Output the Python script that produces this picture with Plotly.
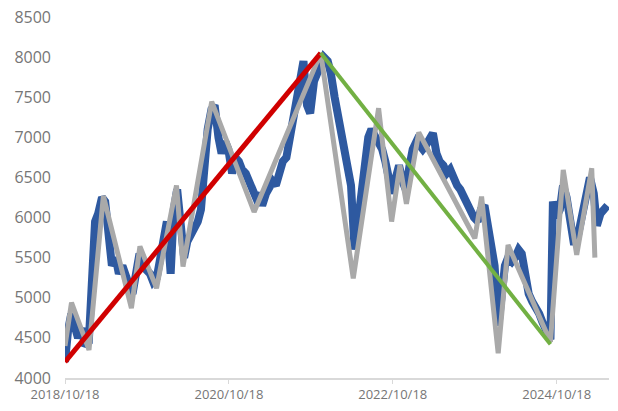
import plotly.graph_objects as go

blue_dates = [
    "2018-10-18", "2018-10-25", "2018-11-01", "2018-11-15", "2018-12-01", "2018-12-15",
    "2019-01-01", "2019-01-15", "2019-02-01", "2019-02-15", "2019-03-01", "2019-03-15",
    "2019-04-01", "2019-04-15", "2019-05-01", "2019-05-15", "2019-06-01", "2019-06-15",
    "2019-07-01", "2019-07-15", "2019-08-01", "2019-08-15", "2019-09-01", "2019-09-15",
    "2019-10-01", "2019-10-15", "2019-11-01", "2019-11-15", "2019-12-01", "2019-12-15",
    "2020-01-01", "2020-01-15", "2020-02-01", "2020-02-15", "2020-03-01", "2020-03-15",
    "2020-04-01", "2020-04-15", "2020-05-01", "2020-05-15", "2020-06-01", "2020-06-15",
    "2020-07-01", "2020-07-15", "2020-08-01", "2020-08-15", "2020-09-01", "2020-09-15",
    "2020-10-01", "2020-10-15", "2020-11-01", "2020-11-15", "2020-12-01", "2020-12-15",
    "2021-01-01", "2021-01-15", "2021-02-01", "2021-02-15", "2021-03-01", "2021-03-15",
    "2021-04-01", "2021-04-15", "2021-05-01", "2021-05-15", "2021-06-01", "2021-06-15",
    "2021-07-01", "2021-07-15", "2021-08-01", "2021-08-15", "2021-09-01", "2021-09-15",
    "2021-10-01", "2021-10-15", "2021-11-01", "2021-11-15", "2021-12-01", "2021-12-15",
    "2022-01-01", "2022-01-15", "2022-02-01", "2022-02-15", "2022-03-01", "2022-03-15",
    "2022-04-01", "2022-04-15", "2022-05-01", "2022-05-15", "2022-06-01", "2022-06-15",
    "2022-07-01", "2022-07-15", "2022-08-01", "2022-08-15", "2022-09-01", "2022-09-15",
    "2022-10-01", "2022-10-15", "2022-11-01", "2022-11-15", "2022-12-01", "2022-12-15",
    "2023-01-01", "2023-01-15", "2023-02-01", "2023-02-15", "2023-03-01", "2023-03-15",
    "2023-04-01", "2023-04-15", "2023-05-01", "2023-05-15", "2023-06-01", "2023-06-15",
    "2023-07-01", "2023-07-15", "2023-08-01", "2023-08-15", "2023-09-01", "2023-09-15",
    "2023-10-01", "2023-10-15", "2023-11-01", "2023-11-15", "2023-12-01", "2023-12-15",
    "2024-01-01", "2024-01-15", "2024-02-01", "2024-02-15", "2024-03-01", "2024-03-15",
    "2024-04-01", "2024-04-15", "2024-05-01", "2024-05-15", "2024-06-01", "2024-06-15",
    "2024-07-01", "2024-07-15", "2024-08-01", "2024-08-15", "2024-09-01", "2024-09-15",
    "2024-09-20", "2024-10-01", "2024-10-15", "2024-11-01", "2024-11-15", "2024-12-01",
    "2024-12-15", "2025-01-01", "2025-01-15", "2025-02-01", "2025-02-15", "2025-03-01",
    "2025-03-15", "2025-04-01", "2025-04-15", "2025-05-01", "2025-05-15", "2025-06-01",
]
blue_values = [
    4200, 4450, 4600, 4800, 4650, 4500,
    4620, 4400, 4450, 5100, 5950, 6050,
    6250, 6200, 5600, 5400, 5500, 5300,
    5400, 5250, 5150, 5050, 5400, 5550,
    5450, 5350, 5300, 5200, 5250, 5500,
    5800, 5950, 5300, 6100, 6350, 5900,
    5500, 5700, 5800, 5850, 5950, 6100,
    6700, 7100, 7350, 7400, 7000, 6800,
    6950, 6850, 6550, 6750, 6700, 6600,
    6550, 6450, 6350, 6250, 6300, 6150,
    6300, 6400, 6450, 6400, 6600, 6700,
    6750, 7000, 7300, 7450, 7750, 7950,
    7400, 7300, 7700, 7800, 7900, 8000,
    7950, 7800, 7500, 7300, 7150, 6900,
    6700, 6400, 5600, 5900, 6300, 6650,
    7000, 7100, 7000, 6900, 6850, 6700,
    6400, 6300, 6500, 6650, 6450, 6350,
    6650, 6850, 6950, 6900, 6850, 6900,
    7000, 7050, 6800, 6700, 6650, 6550,
    6600, 6500, 6400, 6350, 6250, 6200,
    6100, 6000, 5950, 6100, 6150, 5900,
    5700, 5400, 4650, 5000, 5400, 5500,
    5450, 5500, 5600, 5550, 5200, 5050,
    4950, 4900, 4800, 4700, 4600, 4500,
    4480, 6200, 6000, 6100, 6400, 6250,
    6000, 5700, 5700, 5950, 6100, 6250,
    6500, 6300, 5900, 6050, 6100, 6150,
]

# Zigzag (turning points)
gray_dates = [
    "2018-10-18", "2018-11-16", "2019-02-02", "2019-04-07", "2019-08-10", "2019-09-17",
    "2019-11-30", "2020-02-27", "2020-03-27", "2020-08-02", "2021-02-07", "2021-12-01",
    "2022-04-25", "2022-08-16", "2022-10-13", "2022-11-19", "2022-12-18", "2023-02-11",
    "2023-10-19", "2023-11-18", "2024-01-31", "2024-03-15", "2024-09-20", "2024-11-16",
    "2025-01-15", "2025-03-23", "2025-04-06",
]
gray_values = [
    4400, 4940, 4350, 6270, 4870, 5640,
    5120, 6400, 5390, 7445, 6070, 8050,
    5243, 7363, 5950, 6650, 6170, 7060,
    5742, 6261, 4308, 5659, 4450, 6594,
    5534, 6615, 5500,
]

# Trend lines
up_dates = ["2018-10-18", "2021-12-01"]
up_values = [4200, 8050]
down_dates = ["2021-12-01", "2024-09-20"]
down_values = [8050, 4420]

x_tick_labels = ["2018/10/18", "2020/10/18", "2022/10/18", "2024/10/18"]
x_tick_dates = ["2018-10-18", "2020-10-18", "2022-10-18", "2024-10-18"]
y_ticks = [4000, 4500, 5000, 5500, 6000, 6500, 7000, 7500, 8000, 8500]

fig = go.Figure()
fig.add_trace(go.Scatter(x=blue_dates, y=blue_values, mode="lines",
                         line=dict(color="#2E59A0", width=8), showlegend=False))
fig.add_trace(go.Scatter(x=gray_dates, y=gray_values, mode="lines",
                         line=dict(color="#A9A9A9", width=5), showlegend=False))
fig.add_trace(go.Scatter(x=up_dates, y=up_values, mode="lines",
                         line=dict(color="#D00000", width=5), showlegend=False))
fig.add_trace(go.Scatter(x=down_dates, y=down_values, mode="lines",
                         line=dict(color="#72B043", width=4), showlegend=False))

fig.update_layout(
    width=618, height=411,
    margin=dict(l=65, r=9, t=17, b=33, autoexpand=False),
    plot_bgcolor="white", paper_bgcolor="white",
    font=dict(family="Open Sans, Liberation Sans, sans-serif", color="#767676"),
)
fig.update_xaxes(
    type="date", range=["2018-10-18", "2025-06-08"],
    tickvals=x_tick_dates, ticktext=x_tick_labels,
    tickfont=dict(size=13, color="#767676"),
    showgrid=False, zeroline=False, automargin=False,
    showline=True, linecolor="#D9D9D9", linewidth=1.5,
    ticks="outside", ticklen=4, tickcolor="#D9D9D9",
)
fig.update_yaxes(
    range=[4000, 8500], tickvals=y_ticks,
    tickfont=dict(size=16, color="#767676"),
    showgrid=False, zeroline=False, showline=False, automargin=False,
    ticklabelstandoff=13,
)

# remove the browser's default 8px body margin so the figure sits at the window corner
fig.write_html("out.html", config={"displayModeBar": False},
               post_script="document.body.style.margin='0px';")
